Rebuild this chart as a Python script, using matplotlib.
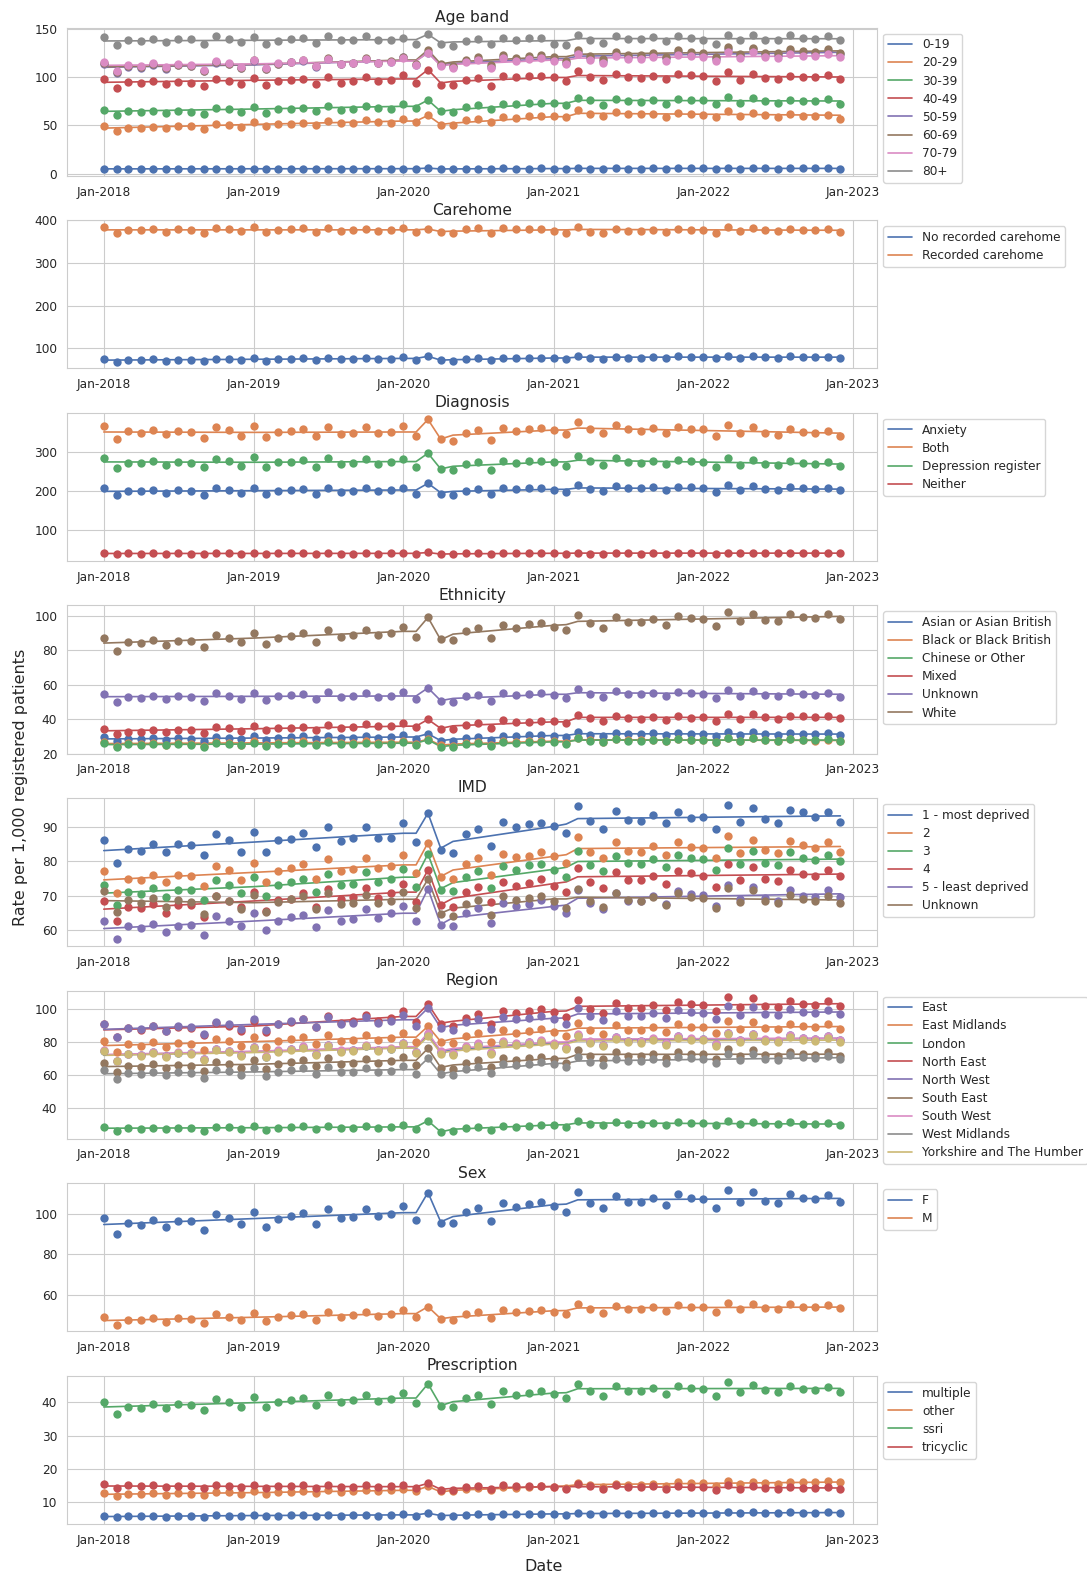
import matplotlib
matplotlib.use("Agg")
import matplotlib.pyplot as plt
import matplotlib.dates as mdates
import pandas as pd
import seaborn as sns

sns.set_style("whitegrid")
plt.rcParams["font.family"] = ["DejaVu Sans"]

months = pd.date_range("2018-01-01", periods=60, freq="MS")
fit_idx = [0, 12, 24, 25, 26, 27, 28, 36, 37, 38, 59]
fit_months = months[fit_idx]

# ---------------- Age band ----------------
age_labels = ["0-19", "20-29", "30-39", "40-49", "50-59", "60-69", "70-79", "80+"]
age_0_19 = [5.4, 4.9, 5.2, 5.1, 5.2, 5.0, 5.2, 5.1, 4.9, 5.3, 5.2, 5.0,
            5.4, 5.0, 5.2, 5.2, 5.3, 5.0, 5.4, 5.1, 5.2, 5.3, 5.1, 5.2,
            5.4, 5.1, 5.9, 5.0, 4.9, 5.3, 5.4, 5.0, 5.5, 5.4, 5.4, 5.5,
            5.3, 5.1, 5.9, 5.4, 5.2, 5.5, 5.4, 5.4, 5.5, 5.3, 5.6, 5.5,
            5.5, 5.2, 5.8, 5.4, 5.7, 5.5, 5.4, 5.6, 5.5, 5.5, 5.6, 5.4]
age_20_29 = [49.0, 44.1, 47.6, 47.6, 48.3, 47.6, 49.0, 49.0, 46.6, 51.0, 50.0, 47.9,
             53.1, 49.0, 51.7, 51.7, 52.8, 50.7, 54.1, 52.1, 52.1, 55.2, 53.1, 52.8,
             56.6, 53.4, 60.3, 50.3, 50.7, 55.2, 56.6, 53.1, 58.3, 57.9, 59.3, 59.7,
             59.7, 58.6, 65.9, 62.1, 59.7, 63.8, 62.1, 61.4, 62.1, 58.6, 62.8, 61.4,
             61.0, 58.6, 64.5, 59.3, 62.8, 60.3, 58.6, 62.1, 59.7, 59.3, 60.3, 56.9]
age_30_39 = [66.2, 60.3, 64.5, 63.4, 64.8, 63.1, 64.5, 64.1, 62.1, 68.3, 66.9, 63.4,
             69.0, 63.1, 66.9, 66.6, 68.3, 64.8, 69.7, 66.2, 67.2, 70.3, 68.3, 67.2,
             72.1, 68.3, 76.2, 64.5, 63.8, 69.0, 71.0, 66.6, 72.4, 72.1, 73.1, 73.4,
             73.4, 70.7, 78.6, 75.9, 71.4, 76.9, 74.8, 74.1, 76.2, 72.4, 77.2, 75.9,
             76.2, 71.7, 79.3, 73.4, 77.9, 75.2, 73.1, 76.6, 75.2, 75.2, 76.9, 72.1]
age_40_49 = [97.6, 89.0, 94.8, 93.4, 95.5, 92.4, 95.2, 93.4, 90.7, 97.9, 96.2, 92.8,
             99.0, 92.1, 96.2, 96.6, 97.9, 92.8, 100.3, 93.8, 96.2, 100.0, 96.2, 96.9,
             102.1, 93.8, 107.6, 91.7, 91.7, 96.9, 98.6, 91.0, 101.0, 99.7, 101.4, 101.4,
             99.7, 95.9, 105.9, 100.0, 96.6, 103.4, 100.0, 99.0, 101.4, 97.6, 103.4, 101.7,
             100.7, 95.5, 105.2, 97.2, 103.4, 99.3, 97.9, 101.0, 100.3, 99.7, 101.7, 98.3]
age_50_59 = [113.9, 104.4, 110.8, 109.7, 112.4, 108.5, 112.0, 111.2, 105.8, 114.8, 112.9, 109.2,
             116.6, 108.2, 113.3, 115.0, 117.0, 110.6, 118.8, 113.4, 114.2, 118.6, 114.4, 115.8,
             120.6, 112.6, 125.0, 112.1, 110.1, 116.2, 118.5, 110.8, 120.5, 118.3, 119.7, 120.6,
             118.2, 114.6, 125.9, 119.9, 116.9, 124.2, 120.8, 120.7, 123.2, 119.2, 125.6, 123.8,
             123.4, 118.8, 129.4, 122.5, 128.7, 123.4, 122.6, 127.3, 125.3, 124.5, 127.2, 123.6]
age_60_69 = [114.4, 104.8, 111.3, 110.2, 112.9, 108.9, 112.5, 111.7, 106.3, 115.3, 113.4, 109.6,
             117.1, 108.6, 113.8, 115.5, 117.5, 111.1, 119.3, 113.9, 114.7, 119.1, 114.9, 116.3,
             121.1, 113.0, 128.0, 113.0, 111.6, 117.8, 120.2, 112.4, 122.3, 120.1, 121.5, 122.6,
             120.2, 116.5, 127.9, 121.8, 118.7, 126.1, 122.7, 122.6, 125.1, 121.1, 127.4, 125.6,
             125.2, 120.4, 131.1, 124.2, 130.3, 125.1, 124.3, 129.0, 126.9, 126.1, 128.7, 125.1]
age_70_79 = [115.9, 106.2, 112.7, 111.5, 114.1, 110.0, 113.5, 112.6, 107.0, 116.0, 114.1, 110.2,
             117.6, 109.0, 114.0, 115.7, 117.5, 111.0, 119.0, 113.6, 114.2, 118.5, 114.1, 115.5,
             120.1, 112.1, 125.0, 111.1, 109.2, 115.2, 117.3, 109.7, 119.2, 117.0, 118.3, 119.1,
             116.7, 113.2, 123.8, 117.8, 114.8, 121.9, 118.6, 118.4, 120.8, 116.8, 123.0, 121.2,
             120.7, 116.1, 126.3, 119.6, 125.6, 120.5, 119.6, 124.1, 122.1, 121.2, 123.7, 120.2]
age_80 = [141.4, 132.8, 137.9, 136.9, 139.7, 136.6, 139.7, 139.7, 134.5, 142.1, 139.7, 136.2,
          141.4, 134.5, 137.2, 139.7, 140.3, 135.2, 142.8, 138.6, 138.6, 142.4, 137.9, 138.6,
          140.7, 134.5, 144.1, 133.8, 131.7, 136.9, 139.3, 133.8, 140.7, 138.6, 140.0, 140.7,
          134.5, 133.4, 143.1, 137.9, 135.2, 142.1, 139.7, 139.7, 141.4, 137.2, 142.1, 140.7,
          138.6, 134.5, 143.1, 137.9, 143.1, 137.9, 137.9, 143.1, 140.7, 139.7, 142.1, 138.6]
age_fits = [
    [5.1, 5.2, 5.3, 5.3, 5.9, 5.0, 5.1, 5.4, 5.4, 5.6, 5.6],
    [47.2, 51.0, 54.5, 54.5, 60.3, 51.0, 52.4, 59.0, 59.0, 62.5, 60.5],
    [64.5, 66.9, 69.7, 69.7, 76.2, 64.5, 66.2, 72.8, 72.8, 75.9, 75.2],
    [94.5, 96.6, 98.0, 98.0, 107.6, 93.8, 95.5, 99.5, 99.5, 101.5, 100.0],
    [110.0, 112.5, 117.0, 117.0, 125.0, 112.5, 114.0, 119.0, 119.0, 121.5, 125.5],
    [110.5, 113.0, 117.5, 117.5, 128.0, 113.5, 115.5, 121.0, 121.0, 123.5, 127.0],
    [112.0, 113.5, 116.5, 116.5, 125.0, 111.5, 113.0, 117.5, 117.5, 119.5, 122.0],
    [137.2, 137.9, 138.6, 138.6, 144.1, 135.2, 136.2, 137.5, 137.5, 139.7, 139.5],
]

# ---------------- Carehome ----------------
care_labels = ["No recorded carehome", "Recorded carehome"]
care_no = [74.5, 68.4, 72.6, 71.9, 73.7, 71.1, 73.4, 73.0, 69.4, 75.4, 74.2, 71.7,
           76.7, 71.1, 74.3, 75.4, 76.6, 72.3, 77.6, 74.1, 74.5, 77.2, 74.5, 75.3,
           78.4, 73.1, 81.0, 71.7, 70.5, 74.5, 76.1, 71.2, 77.6, 76.3, 77.2, 78.0,
           76.5, 74.2, 81.8, 77.8, 75.8, 80.3, 78.1, 77.9, 79.4, 76.7, 80.7, 79.4,
           79.0, 75.9, 82.6, 78.1, 81.8, 78.4, 77.8, 80.7, 79.2, 78.6, 80.2, 77.8]
care_yes = [385, 370, 378, 377, 380, 374, 379, 378, 371, 382, 379, 375,
            384, 372, 378, 380, 382, 374, 383, 376, 377, 381, 376, 377,
            383, 372, 380, 374, 371, 379, 382, 371, 383, 379, 380, 381,
            376, 370, 384, 374, 370, 380, 376, 376, 378, 373, 381, 378,
            378, 371, 385, 375, 383, 377, 375, 381, 377, 377, 379, 372]
care_fits = [
    [72, 74, 76, 76, 81, 72, 73, 77, 77, 79, 79],
    [378, 378, 378, 378, 380, 374, 375, 378, 378, 379, 377],
]

# ---------------- Diagnosis ----------------
diag_labels = ["Anxiety", "Both", "Depression register", "Neither"]
diag_anx = [206.0, 189.7, 200.0, 198.3, 202.6, 194.9, 200.9, 199.1, 189.7, 206.0, 201.7, 194.9,
            206.0, 190.6, 199.1, 202.6, 203.4, 192.3, 207.7, 197.4, 198.3, 206.0, 200.0, 200.9,
            206.0, 192.3, 218.8, 191.5, 188.0, 199.1, 203.4, 190.6, 207.7, 204.3, 206.0, 206.8,
            202.6, 195.7, 215.4, 205.1, 199.1, 212.0, 206.0, 206.0, 209.4, 200.9, 210.3, 208.5,
            207.7, 197.4, 214.5, 202.6, 212.0, 203.4, 202.6, 209.4, 206.0, 205.1, 206.8, 202.6]
diag_both = [365.8, 332.5, 352.0, 348.0, 355.6, 343.6, 352.0, 349.6, 335.0, 362.4, 354.7, 341.0,
             365.8, 337.6, 350.4, 353.8, 357.3, 339.3, 363.2, 343.6, 348.0, 361.5, 346.2, 349.6,
             365.0, 338.5, 382.0, 331.6, 327.4, 348.0, 354.7, 330.0, 359.8, 353.8, 356.4, 360.7,
             354.7, 343.6, 376.0, 357.3, 346.2, 367.5, 356.4, 353.0, 360.7, 348.0, 363.2, 358.0,
             356.4, 339.3, 368.4, 346.2, 363.2, 348.0, 341.9, 358.0, 350.4, 346.2, 353.0, 341.0]
diag_dep = [283.8, 259.0, 271.8, 270.0, 276.0, 265.0, 273.5, 271.0, 259.8, 282.0, 276.0, 264.0,
            285.5, 261.5, 272.6, 274.4, 278.6, 260.7, 282.9, 267.5, 270.0, 280.3, 269.2, 272.6,
            282.0, 261.5, 295.7, 254.7, 252.1, 267.5, 272.6, 253.8, 276.9, 271.8, 275.2, 277.0,
            272.6, 263.2, 289.7, 275.2, 265.8, 282.9, 273.5, 271.8, 277.0, 267.5, 279.5, 276.0,
            274.4, 260.7, 284.6, 265.8, 279.5, 267.5, 265.8, 276.0, 271.8, 267.5, 273.5, 263.2]
diag_neither = [40.8, 37.6, 39.6, 39.2, 40.0, 38.6, 39.7, 39.4, 37.6, 40.6, 39.8, 38.5,
                41.0, 37.9, 39.6, 40.0, 40.6, 38.3, 41.0, 39.0, 39.2, 40.6, 39.1, 39.5,
                41.0, 38.3, 42.0, 37.8, 37.5, 39.9, 40.6, 37.9, 41.0, 40.1, 40.3, 40.5,
                39.6, 38.4, 41.3, 39.3, 38.3, 40.6, 39.5, 39.4, 40.2, 38.8, 40.8, 40.2,
                40.0, 38.5, 41.8, 39.5, 41.5, 39.8, 39.5, 40.9, 40.2, 39.9, 40.7, 39.5]
diag_fits = [
    [198.3, 200.0, 201.7, 201.7, 218.8, 194.9, 198.3, 203.4, 203.4, 207.0, 204.0],
    [350, 349, 350, 350, 382, 332, 342, 355, 355, 360, 347],
    [273.5, 272.6, 274.4, 274.4, 295.7, 255.6, 262.4, 273.5, 273.5, 277.8, 268.0],
    [39.5, 39.6, 39.8, 39.8, 42.0, 37.9, 38.6, 40.0, 40.0, 40.4, 40.3],
]

# ---------------- Ethnicity ----------------
eth_labels = ["Asian or Asian British", "Black or Black British", "Chinese or Other",
              "Mixed", "Unknown", "White"]
eth_asian = [29.5, 27.0, 28.7, 28.4, 29.1, 28.0, 29.0, 28.7, 27.3, 29.7, 29.1, 28.2,
             30.0, 27.8, 29.1, 29.5, 30.0, 28.3, 30.3, 29.0, 29.1, 30.2, 29.0, 29.4,
             30.5, 28.5, 31.5, 27.4, 27.3, 29.0, 29.7, 27.8, 30.4, 30.0, 30.5, 30.8,
             30.3, 29.4, 32.6, 31.0, 30.2, 32.0, 31.1, 31.1, 31.7, 30.5, 32.1, 31.6,
             31.4, 30.2, 32.8, 31.0, 32.5, 31.1, 30.8, 32.0, 31.4, 31.1, 31.8, 30.8]
eth_black = [26.7, 24.4, 25.9, 25.6, 26.2, 25.2, 26.0, 25.8, 24.5, 26.6, 26.1, 25.2,
             27.1, 25.1, 26.3, 26.6, 27.0, 25.4, 27.2, 25.9, 26.1, 27.0, 26.0, 26.4,
             27.4, 25.6, 28.3, 24.7, 24.6, 26.1, 26.6, 24.9, 27.2, 26.7, 27.1, 27.3,
             27.0, 26.2, 29.0, 27.6, 26.8, 28.4, 27.6, 27.6, 28.1, 27.1, 28.5, 28.0,
             27.9, 26.8, 29.1, 27.5, 28.8, 27.6, 27.3, 28.3, 27.8, 27.5, 28.0, 27.2]
eth_chinese = [26.1, 23.9, 25.3, 25.0, 25.6, 24.7, 25.4, 25.2, 24.0, 26.0, 25.5, 24.7,
               26.4, 24.4, 25.6, 25.9, 26.3, 24.7, 26.5, 25.3, 25.4, 26.4, 25.4, 25.7,
               26.8, 25.0, 28.0, 23.9, 24.0, 25.4, 26.0, 24.4, 26.6, 26.2, 26.5, 26.9,
               26.6, 25.8, 28.8, 27.4, 26.7, 28.3, 27.5, 27.4, 27.9, 27.0, 28.4, 27.9,
               27.8, 26.7, 29.1, 27.5, 28.8, 27.6, 27.4, 28.4, 27.9, 27.7, 28.2, 27.4]
eth_mixed = [34.2, 31.3, 32.8, 32.6, 33.6, 32.6, 33.6, 33.6, 31.9, 35.3, 34.6, 33.2,
             35.9, 33.4, 35.0, 35.0, 35.5, 33.8, 36.5, 34.8, 35.7, 37.1, 35.9, 35.9,
             37.9, 35.5, 39.8, 34.2, 34.0, 36.5, 37.9, 35.0, 39.4, 38.4, 38.6, 39.0,
             38.8, 37.5, 42.3, 40.8, 39.0, 41.7, 40.8, 39.8, 41.4, 39.4, 41.7, 40.9,
             41.4, 39.0, 42.9, 39.8, 42.7, 41.2, 40.2, 42.0, 41.6, 41.4, 42.0, 40.4]
eth_unknown = [54.4, 50.1, 53.0, 52.4, 53.4, 51.7, 53.2, 53.0, 50.7, 55.0, 53.6, 51.8,
               55.0, 51.1, 53.2, 53.8, 54.4, 51.5, 55.5, 53.0, 53.2, 55.3, 53.0, 53.6,
               55.5, 51.7, 58.1, 50.3, 49.9, 53.2, 54.0, 50.5, 55.0, 54.2, 54.6, 55.0,
               53.8, 52.0, 57.5, 54.8, 53.0, 56.3, 54.8, 54.6, 55.1, 53.4, 55.9, 55.0,
               54.8, 52.4, 57.1, 53.4, 56.3, 53.8, 53.2, 55.7, 54.6, 54.2, 55.0, 53.0]
eth_white = [86.8, 79.6, 84.5, 84.1, 85.6, 82.9, 85.2, 85.2, 81.7, 88.7, 87.2, 84.7,
             89.9, 83.7, 87.2, 88.3, 89.7, 85.0, 91.7, 87.4, 88.5, 91.8, 88.7, 90.1,
             93.4, 87.6, 99.0, 86.2, 85.8, 91.1, 92.8, 87.0, 94.8, 93.0, 95.0, 95.7,
             93.6, 91.5, 100.4, 95.5, 92.8, 99.0, 96.3, 96.3, 98.1, 94.8, 99.8, 98.4,
             98.1, 94.2, 102.1, 96.7, 101.2, 97.3, 96.7, 100.8, 99.0, 98.4, 100.8, 98.1]
eth_fits = [
    [28.5, 29.0, 29.6, 29.6, 31.5, 27.5, 28.3, 30.5, 30.5, 31.5, 31.3],
    [25.8, 26.2, 26.6, 26.6, 28.3, 24.8, 25.5, 27.2, 27.2, 28.0, 27.6],
    [25.2, 25.5, 26.0, 26.0, 28.0, 24.0, 24.8, 26.8, 26.8, 27.8, 27.8],
    [33.2, 34.4, 35.9, 35.9, 39.8, 34.6, 36.1, 38.4, 38.4, 41.0, 41.0],
    [53.0, 53.2, 53.4, 53.4, 58.1, 50.7, 52.0, 54.4, 54.4, 55.3, 54.4],
    [84.1, 87.0, 90.9, 90.9, 99.0, 86.0, 89.3, 94.4, 94.8, 96.7, 99.6],
]

# ---------------- IMD ----------------
imd_labels = ["1 - most deprived", "2", "3", "4", "5 - least deprived", "Unknown"]
imd_1 = [86.3, 79.5, 83.6, 83.1, 85.1, 82.9, 85.1, 84.9, 81.8, 88.1, 86.3, 82.9,
         88.8, 82.9, 86.3, 86.7, 88.4, 84.2, 90.0, 86.1, 86.9, 90.2, 86.8, 86.8,
         91.2, 85.6, 94.2, 83.4, 82.6, 88.1, 89.5, 84.5, 91.6, 90.2, 91.0, 91.3,
         90.3, 88.3, 96.4, 91.9, 89.5, 94.7, 92.3, 91.9, 93.7, 91.2, 94.6, 92.8,
         93.0, 89.5, 96.7, 91.6, 95.6, 92.5, 91.4, 95.2, 94.4, 93.0, 94.6, 91.5]
imd_2 = [77.3, 70.8, 75.0, 74.7, 76.1, 74.1, 76.1, 75.7, 72.8, 78.7, 77.4, 74.7,
         79.6, 74.0, 77.3, 78.1, 79.2, 75.0, 80.8, 77.3, 77.9, 81.1, 78.0, 78.6,
         81.9, 76.6, 85.5, 75.3, 74.8, 79.4, 81.0, 76.0, 82.3, 81.2, 81.7, 82.9,
         81.5, 79.6, 87.1, 82.7, 80.9, 85.7, 83.1, 82.9, 84.6, 82.0, 85.7, 84.4,
         83.9, 80.9, 87.6, 82.6, 86.4, 83.3, 82.5, 86.1, 84.9, 83.9, 85.6, 82.8]
imd_3 = [73.0, 67.1, 71.0, 70.5, 72.1, 69.7, 71.7, 71.7, 68.6, 74.5, 73.1, 70.8,
         75.3, 70.0, 73.1, 74.1, 75.0, 70.9, 76.3, 73.0, 73.5, 76.8, 73.9, 74.9,
         77.7, 72.6, 82.2, 71.7, 71.4, 75.5, 77.1, 72.1, 78.7, 77.5, 79.0, 79.2,
         77.6, 75.5, 83.1, 79.0, 77.1, 81.7, 79.5, 79.2, 80.8, 78.3, 81.9, 80.9,
         80.6, 77.4, 83.9, 79.2, 83.1, 79.5, 79.0, 82.8, 81.1, 80.5, 81.9, 80.0]
imd_4 = [68.4, 62.5, 66.6, 66.3, 67.5, 65.0, 67.2, 67.1, 63.7, 69.9, 68.5, 66.7,
         71.0, 65.6, 68.6, 69.0, 70.6, 66.5, 72.0, 69.1, 69.6, 72.1, 69.4, 70.6,
         73.4, 68.0, 77.5, 67.2, 66.7, 71.0, 72.5, 68.1, 74.1, 72.8, 73.6, 75.0,
         72.8, 70.9, 78.0, 74.1, 72.2, 76.8, 74.6, 74.6, 75.8, 73.4, 77.3, 76.6,
         75.8, 72.6, 79.2, 74.6, 78.3, 74.9, 74.3, 77.5, 76.3, 75.8, 77.5, 75.6]
imd_5 = [62.5, 57.1, 60.9, 60.6, 61.7, 59.4, 61.1, 61.2, 58.3, 64.0, 62.5, 61.1,
         65.0, 60.0, 62.5, 63.7, 64.4, 60.8, 65.8, 62.4, 63.0, 65.9, 63.4, 64.8,
         66.8, 62.4, 71.9, 61.2, 61.1, 65.0, 66.4, 61.9, 67.9, 66.8, 67.5, 68.7,
         66.8, 64.8, 71.7, 67.9, 66.0, 70.7, 68.5, 68.5, 69.9, 67.5, 71.4, 70.5,
         70.2, 67.0, 73.1, 68.9, 72.4, 69.2, 68.5, 71.5, 70.0, 69.7, 71.5, 69.7]
imd_unknown = [71.3, 65.3, 68.8, 67.9, 69.4, 66.7, 68.7, 68.0, 64.6, 69.9, 68.5, 66.1,
               70.3, 65.1, 68.1, 69.0, 70.0, 66.0, 70.8, 67.5, 67.8, 70.3, 67.7, 68.3,
               71.0, 66.3, 74.8, 64.5, 64.0, 67.5, 68.8, 64.2, 70.0, 68.7, 69.4, 70.0,
               68.5, 66.4, 72.0, 68.4, 66.6, 70.6, 68.6, 68.3, 69.6, 67.3, 70.7, 69.5,
               69.2, 66.4, 72.2, 68.2, 71.5, 68.5, 67.9, 70.3, 69.0, 68.5, 69.8, 67.7]
imd_fits = [
    [83.2, 85.7, 88.3, 88.3, 94.2, 83.9, 85.9, 90.3, 91.0, 92.6, 93.4],
    [74.6, 76.8, 79.0, 79.0, 85.5, 75.6, 77.5, 81.5, 82.0, 83.8, 84.4],
    [70.7, 72.6, 75.4, 75.4, 82.2, 72.0, 73.8, 77.7, 78.3, 80.0, 80.7],
    [66.0, 68.4, 71.0, 71.0, 77.5, 67.3, 69.2, 73.5, 74.0, 75.5, 76.3],
    [60.3, 62.5, 64.8, 64.8, 72.0, 61.5, 63.5, 66.8, 67.2, 69.2, 70.5],
    [68.5, 67.9, 68.9, 68.9, 74.8, 64.8, 66.3, 69.0, 69.0, 69.5, 68.7],
]

# ---------------- Region ----------------
reg_labels = ["East", "East Midlands", "London", "North East", "North West",
              "South East", "South West", "West Midlands", "Yorkshire and The Humber"]
reg_east = [74.5, 68.3, 72.6, 71.9, 73.7, 71.2, 73.4, 73.0, 69.4, 75.4, 74.2, 71.8,
            76.7, 71.1, 74.4, 75.5, 76.8, 72.6, 77.9, 74.4, 74.9, 77.7, 75.0, 75.9,
            79.0, 73.7, 84.5, 73.7, 72.8, 77.0, 78.5, 73.5, 80.0, 78.6, 79.6, 80.4,
            78.7, 76.5, 84.1, 80.0, 77.9, 82.7, 80.3, 80.2, 81.8, 79.0, 83.2, 81.9,
            81.7, 78.6, 85.5, 80.8, 84.8, 81.3, 80.7, 83.8, 82.4, 81.6, 83.3, 80.8]
reg_em = [80.4, 73.8, 78.4, 77.7, 79.6, 76.9, 79.4, 78.9, 75.1, 81.6, 80.3, 77.7,
          83.0, 76.9, 80.6, 81.8, 83.1, 78.5, 84.3, 80.5, 81.0, 84.0, 81.0, 82.0,
          85.4, 79.7, 89.4, 79.8, 79.0, 83.6, 85.3, 79.9, 87.1, 85.6, 86.8, 87.6,
          86.0, 83.4, 91.4, 86.9, 84.7, 89.9, 87.3, 87.2, 88.9, 85.9, 90.5, 89.0,
          88.7, 85.2, 92.8, 87.7, 92.1, 88.3, 87.7, 90.9, 89.4, 88.7, 90.5, 87.9]
reg_london = [28.8, 26.3, 27.9, 27.6, 28.2, 27.2, 28.0, 27.8, 26.4, 28.7, 28.3, 27.3,
              29.1, 27.0, 28.2, 28.6, 29.0, 27.4, 29.4, 28.0, 28.1, 29.1, 28.0, 28.4,
              29.5, 27.5, 32.3, 25.5, 26.3, 27.9, 28.6, 26.8, 29.2, 28.8, 29.3, 29.8,
              29.6, 28.8, 32.1, 30.5, 29.7, 31.5, 30.6, 30.5, 31.1, 30.0, 31.5, 31.0,
              30.8, 29.6, 32.1, 30.3, 31.8, 30.5, 30.2, 31.3, 30.5, 30.3, 30.8, 29.8]
reg_ne = [90.5, 83.0, 88.1, 87.2, 89.3, 86.3, 89.0, 88.3, 84.1, 91.3, 89.8, 86.8,
          92.7, 86.2, 90.5, 92.0, 93.8, 88.9, 95.6, 91.5, 92.4, 96.0, 92.8, 94.1,
          98.3, 91.7, 102.8, 90.8, 89.3, 94.5, 96.5, 90.5, 98.6, 97.1, 98.5, 99.5,
          97.7, 95.0, 105.1, 100.0, 97.4, 103.3, 100.5, 100.4, 102.4, 98.9, 104.1, 102.6,
          102.2, 98.3, 106.9, 101.2, 106.2, 101.8, 101.1, 104.9, 103.1, 102.3, 104.4, 101.5]
reg_nw = [90.6, 83.1, 88.4, 87.5, 89.7, 86.7, 89.5, 89.0, 84.8, 92.1, 90.6, 87.7,
          93.8, 86.9, 91.0, 92.3, 93.8, 88.7, 95.1, 90.7, 91.4, 94.7, 91.3, 92.4,
          96.2, 89.8, 100.4, 88.1, 86.9, 91.8, 93.6, 87.6, 95.2, 93.5, 94.6, 95.5,
          93.5, 90.9, 100.3, 95.4, 92.9, 98.6, 95.8, 95.7, 97.6, 94.4, 99.3, 97.8,
          97.4, 93.6, 101.9, 96.3, 101.1, 96.9, 96.2, 99.8, 98.1, 97.4, 99.4, 96.5]
reg_se = [67.3, 61.7, 65.5, 64.8, 66.4, 64.1, 66.1, 65.6, 62.4, 67.8, 66.6, 64.4,
          68.8, 63.8, 66.8, 67.8, 68.9, 65.2, 70.0, 66.8, 67.2, 69.8, 67.3, 68.1,
          70.9, 66.2, 76.0, 64.2, 63.8, 67.4, 68.9, 64.5, 70.3, 69.1, 70.0, 70.7,
          69.4, 67.4, 75.0, 71.3, 69.4, 73.6, 71.5, 71.4, 72.8, 70.3, 73.9, 72.8,
          72.4, 69.6, 75.7, 71.6, 75.1, 72.0, 71.4, 74.0, 72.7, 72.1, 73.6, 71.4]
reg_sw = [74.8, 68.6, 72.9, 72.2, 74.0, 71.4, 73.7, 73.2, 69.7, 75.7, 74.5, 72.1,
          77.0, 71.4, 74.8, 75.8, 77.2, 72.9, 78.3, 74.8, 75.3, 78.1, 75.3, 76.2,
          79.4, 74.1, 85.4, 74.2, 73.4, 77.6, 79.1, 74.0, 80.5, 79.2, 80.1, 80.8,
          79.2, 76.9, 84.5, 80.4, 78.3, 83.1, 80.7, 80.6, 82.1, 79.3, 83.4, 82.1,
          81.9, 78.7, 85.6, 81.0, 84.9, 81.4, 80.8, 83.8, 82.3, 81.7, 83.4, 81.0]
reg_wm = [62.8, 57.6, 61.1, 60.5, 61.9, 59.8, 61.6, 61.2, 58.2, 63.1, 62.1, 60.0,
          64.0, 59.3, 62.0, 62.9, 63.9, 60.3, 64.7, 61.7, 62.0, 64.3, 62.0, 62.6,
          65.2, 60.8, 70.0, 60.4, 59.9, 63.5, 65.0, 61.0, 66.6, 65.7, 66.8, 67.6,
          66.4, 64.5, 70.9, 67.5, 65.8, 69.9, 68.1, 68.1, 69.5, 67.2, 71.0, 70.0,
          69.5, 66.9, 72.7, 69.1, 72.5, 69.6, 69.2, 71.9, 70.7, 70.3, 71.6, 69.4]
reg_yh = [74.3, 68.1, 72.4, 71.7, 73.4, 70.8, 73.1, 72.6, 69.1, 75.0, 73.7, 71.3,
          76.1, 70.6, 74.0, 75.1, 76.3, 72.1, 77.5, 74.0, 74.5, 77.2, 74.5, 75.4,
          78.6, 73.3, 83.2, 72.9, 72.0, 76.0, 77.6, 72.7, 79.2, 77.8, 78.8, 79.6,
          78.1, 75.9, 83.4, 79.3, 77.2, 81.9, 79.6, 79.5, 81.0, 78.3, 82.3, 81.0,
          80.8, 77.7, 84.5, 79.9, 83.8, 80.3, 79.7, 82.7, 81.3, 80.6, 82.3, 79.8]
reg_fits = [
    [72.0, 74.0, 76.6, 76.6, 84.5, 74.0, 75.4, 79.3, 79.4, 81.2, 82.0],
    [77.7, 80.1, 82.8, 82.8, 89.4, 80.1, 81.8, 86.6, 86.6, 88.2, 89.2],
    [27.8, 28.1, 28.6, 28.6, 32.3, 25.6, 27.2, 29.8, 29.9, 31.0, 30.3],
    [87.2, 89.5, 95.3, 95.3, 102.8, 91.2, 92.4, 98.4, 98.6, 101.4, 103.0],
    [87.5, 90.5, 93.3, 93.3, 100.4, 88.5, 90.0, 94.2, 94.4, 96.8, 98.0],
    [65.0, 66.4, 68.8, 68.8, 76.0, 64.5, 66.0, 69.9, 70.0, 72.4, 72.5],
    [72.3, 74.3, 77.0, 77.0, 85.4, 74.5, 76.0, 79.8, 79.9, 81.6, 82.2],
    [60.7, 61.8, 63.2, 63.2, 70.0, 60.6, 62.0, 66.9, 67.0, 68.4, 70.4],
    [71.8, 73.5, 76.2, 76.2, 83.2, 73.2, 74.5, 78.6, 78.8, 80.5, 81.0],
]

# ---------------- Sex ----------------
sex_labels = ["F", "M"]
sex_f = [98.0, 89.8, 95.4, 94.4, 96.7, 93.4, 96.4, 96.2, 91.9, 99.7, 98.0, 94.7,
         101.0, 93.4, 97.5, 99.0, 100.5, 95.1, 102.3, 97.7, 98.5, 102.3, 98.8, 99.8,
         103.6, 96.7, 110.2, 95.6, 95.2, 100.7, 102.8, 96.4, 105.3, 103.5, 104.8, 105.8,
         103.7, 100.8, 110.6, 105.4, 102.6, 108.8, 105.7, 105.7, 107.8, 104.2, 109.6, 107.8,
         107.3, 102.8, 111.7, 105.5, 110.6, 106.0, 105.2, 109.8, 107.8, 107.0, 109.1, 105.9]
sex_m = [49.1, 45.6, 47.8, 47.8, 48.6, 47.1, 48.6, 48.4, 46.4, 50.6, 49.4, 47.9,
         51.1, 47.4, 49.4, 50.1, 50.7, 48.1, 51.7, 49.4, 50.2, 51.9, 49.9, 50.7,
         52.7, 49.4, 54.4, 48.3, 47.8, 50.6, 51.6, 48.6, 52.6, 51.6, 52.2, 52.7,
         51.9, 50.7, 55.5, 53.1, 51.4, 54.7, 53.4, 53.1, 54.4, 52.4, 55.0, 54.4,
         54.0, 51.6, 56.4, 53.1, 55.7, 53.6, 53.1, 55.5, 54.4, 54.4, 55.2, 53.6]
sex_fits = [
    [94.7, 97.6, 100.5, 100.5, 110.4, 96.0, 98.6, 104.4, 104.7, 106.8, 107.5],
    [47.6, 49.2, 51.0, 51.0, 54.4, 48.5, 49.3, 52.4, 52.5, 53.8, 54.2],
]

# ---------------- Prescription ----------------
rx_labels = ["multiple", "other", "ssri", "tricyclic"]
rx_multiple = [5.9, 5.4, 5.7, 5.7, 5.8, 5.6, 5.8, 5.8, 5.5, 6.0, 5.9, 5.7,
               6.1, 5.7, 5.9, 6.0, 6.1, 5.8, 6.2, 5.9, 6.0, 6.2, 5.9, 6.0,
               6.3, 5.9, 6.6, 5.9, 5.8, 6.1, 6.3, 5.9, 6.4, 6.3, 6.3, 6.4,
               6.3, 6.1, 6.7, 6.5, 6.3, 6.6, 6.5, 6.5, 6.6, 6.4, 6.8, 6.7,
               6.7, 6.4, 7.0, 6.7, 7.0, 6.7, 6.7, 6.9, 6.8, 6.8, 6.9, 6.7]
rx_other = [12.7, 11.7, 12.4, 12.3, 12.6, 12.2, 12.6, 12.5, 12.0, 13.0, 12.9, 12.5,
            13.2, 12.4, 12.9, 13.1, 13.2, 12.7, 13.6, 13.1, 13.3, 13.7, 13.3, 13.5,
            13.9, 13.3, 14.7, 13.2, 13.2, 13.9, 14.2, 13.5, 14.5, 14.3, 14.5, 14.7,
            14.5, 14.1, 15.7, 15.0, 14.5, 15.5, 15.1, 15.1, 15.5, 14.9, 15.9, 15.7,
            15.7, 14.9, 16.3, 15.5, 16.1, 15.7, 15.5, 16.1, 15.9, 15.9, 16.3, 15.9]
rx_ssri = [40.0, 36.5, 38.7, 38.4, 39.5, 38.2, 39.5, 39.3, 37.6, 40.9, 40.2, 38.7,
           41.6, 38.5, 40.1, 40.7, 41.3, 39.1, 42.2, 40.1, 40.7, 42.2, 40.5, 41.1,
           42.9, 39.9, 45.6, 39.0, 38.6, 41.3, 42.2, 39.4, 43.3, 42.3, 42.7, 43.3,
           42.5, 41.2, 45.5, 43.3, 42.0, 44.9, 43.5, 43.3, 44.2, 42.6, 44.8, 44.2,
           43.9, 42.0, 46.0, 43.1, 45.3, 43.7, 43.1, 45.0, 44.1, 43.7, 44.6, 43.1]
rx_tricyclic = [15.5, 14.3, 15.0, 14.8, 15.0, 14.5, 14.8, 14.7, 14.2, 15.2, 14.9, 14.5,
                15.2, 14.2, 14.7, 14.9, 15.0, 14.1, 15.0, 14.5, 14.6, 15.0, 14.6, 14.7,
                15.1, 14.2, 15.6, 13.7, 13.7, 14.4, 14.7, 13.9, 15.0, 14.7, 14.7, 14.9,
                14.6, 14.0, 15.5, 14.7, 14.0, 15.2, 14.5, 14.5, 14.7, 14.0, 14.8, 14.5,
                14.5, 13.7, 15.1, 14.0, 14.7, 14.1, 13.9, 14.6, 14.3, 14.2, 14.5, 13.9]
rx_fits = [
    [5.6, 5.9, 6.1, 6.1, 6.6, 5.9, 6.0, 6.4, 6.4, 6.5, 6.8],
    [12.3, 12.8, 13.5, 13.5, 14.7, 13.0, 13.5, 14.7, 14.8, 15.2, 16.0],
    [38.6, 39.9, 41.3, 41.3, 45.6, 39.0, 40.2, 42.8, 42.9, 44.1, 44.2],
    [14.8, 14.7, 14.6, 14.6, 15.6, 13.8, 14.1, 14.6, 14.6, 14.6, 14.2],
]

panels = [
    ("Age band", age_labels,
     [age_0_19, age_20_29, age_30_39, age_40_49, age_50_59, age_60_69, age_70_79, age_80],
     age_fits),
    ("Carehome", care_labels, [care_no, care_yes], care_fits),
    ("Diagnosis", diag_labels, [diag_anx, diag_both, diag_dep, diag_neither], diag_fits),
    ("Ethnicity", eth_labels,
     [eth_asian, eth_black, eth_chinese, eth_mixed, eth_unknown, eth_white], eth_fits),
    ("IMD", imd_labels, [imd_1, imd_2, imd_3, imd_4, imd_5, imd_unknown], imd_fits),
    ("Region", reg_labels,
     [reg_east, reg_em, reg_london, reg_ne, reg_nw, reg_se, reg_sw, reg_wm, reg_yh],
     reg_fits),
    ("Sex", sex_labels, [sex_f, sex_m], sex_fits),
    ("Prescription", rx_labels, [rx_multiple, rx_other, rx_ssri, rx_tricyclic], rx_fits),
]

palette = sns.color_palette("deep", 10)

fig, axes = plt.subplots(8, 1, figsize=(10.87, 15.74), dpi=100)
fig.subplots_adjust(left=0.0616, right=0.807, top=0.9825, bottom=0.0318, hspace=0.299)

for ax, (title, labels, points, fits) in zip(axes, panels):
    for i, (lab, pts, fit) in enumerate(zip(labels, points, fits)):
        col = palette[i % 10]
        ax.plot(fit_months, fit, color=col, lw=1.2, label=lab)
        ax.scatter(months, pts, color=col, s=36, linewidths=0, zorder=3)
    ax.set_title(title, fontsize=11.2, pad=4)
    ax.xaxis.set_major_locator(mdates.YearLocator())
    ax.xaxis.set_major_formatter(mdates.DateFormatter("%b-%Y"))
    ax.tick_params(labelsize=8.7)
    ax.legend(loc="upper left", bbox_to_anchor=(1.0, 1.0), fontsize=8.7,
              labelspacing=0.42)

fig.supylabel("Rate per 1,000 registered patients", fontsize=11.5, x=0.012)
fig.supxlabel("Date", fontsize=11.5, y=0.0)

fig.savefig("out.png", dpi=100)
